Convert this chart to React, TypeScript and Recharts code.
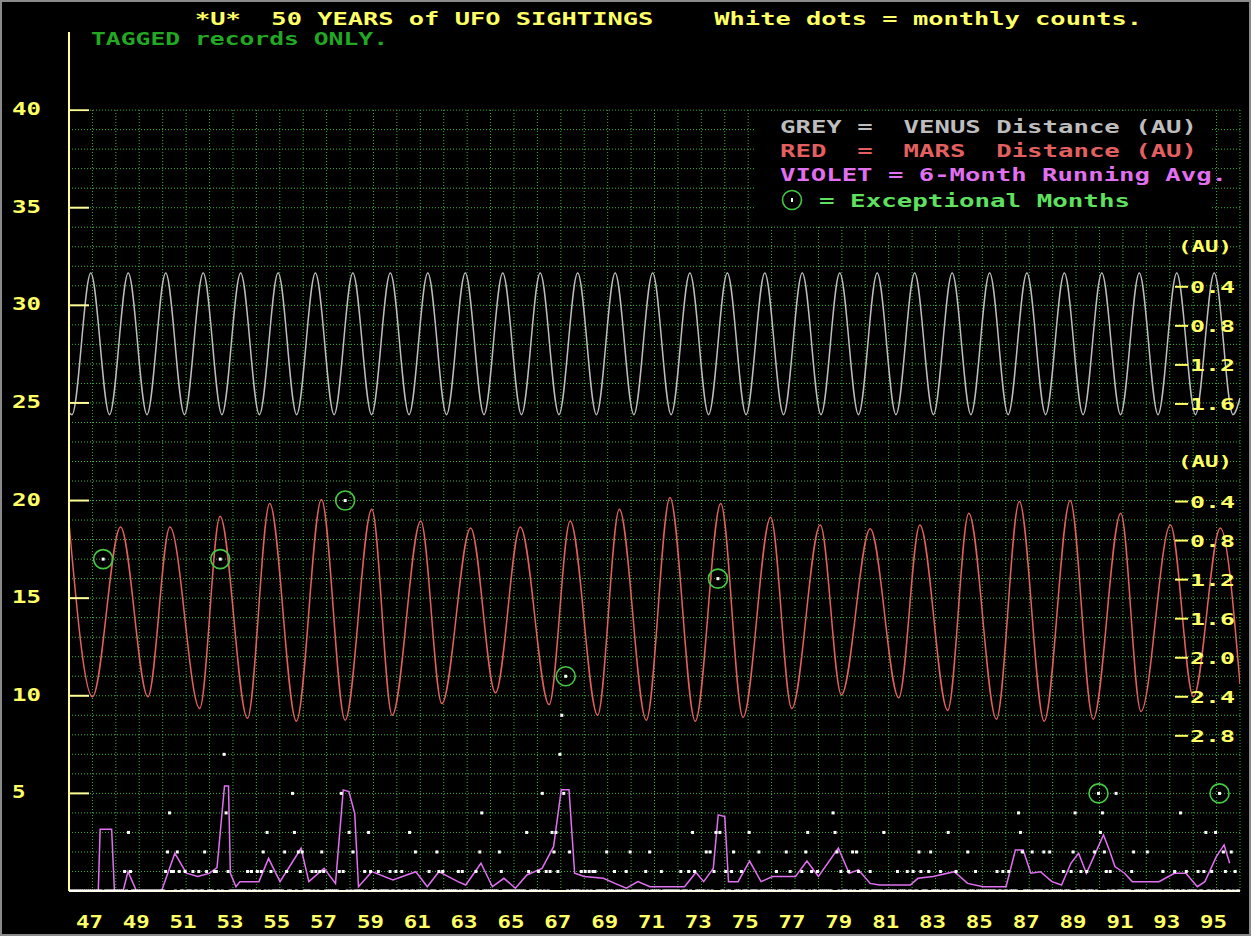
import { CartesianGrid, ComposedChart, Line, Scatter, XAxis, YAxis } from "recharts";

const FONT = "'DejaVu Sans Mono', 'Liberation Mono', monospace";
const YELLOW = "#ffff66";
const AXIS = "#ffff99";
const GRID = "#3ab43a";
const GREY = "#bdbdbd";
const RED = "#e46060";
const VIOLET = "#e070f0";
const RING = "#45c845";

// x axis: years 19xx
const yearTicks = [47, 49, 51, 53, 55, 57, 59, 61, 63, 65, 67, 69, 71, 73, 75, 77, 79, 81, 83, 85, 87, 89, 91, 93, 95];
const countTicks = [5, 10, 15, 20, 25, 30, 35, 40];
const venusTicks = [0, 0.4, 0.8, 1.2, 1.6];
const marsTicks = [0, 0.4, 0.8, 1.2, 1.6, 2.0, 2.4, 2.8];
const gridYears = Array.from({ length: 50 }, (_, i) => 47 + i);
const gridLevels = Array.from({ length: 40 }, (_, i) => i + 1);

// monthly counts, one string per year from 1946 (Jan..Dec), base-36 digits (b=11, g=16, h=17, k=20)
const monthlyCounts = [
  "000000000000", "00000h000000", "000010310000", "000000000000", "012411021001",
  "000100100210", "00110h074100", "000000010100", "101203010000", "002100530212",
  "000010101210", "000000151k03", "020000010310", "001000001001", "001000300200",
  "000010002101", "000000010100", "000010240000", "000021000000", "000000310000",
  "105010132317", "95b020000010", "101011000002", "000100000102", "000000010200",
  "000100000000", "010001031000", "00202013g300", "100120001000", "300002000000",
  "001000020100", "000102301001", "000000043201", "000102021000", "001000000300",
  "000010000100", "100210001200", "001000300010", "000020001000", "000000010010",
  "010000432000", "020000020020", "000001000124", "001001000205", "342101005000",
  "000012000000", "200000001000", "001004001000", "001001300103", "050210020100",
];

// [year, month index] of circled months
const exceptionalMonths = [[47, 5], [52, 5], [57, 9], [67, 2], [73, 8], [89, 11], [95, 1]];

// Venus distance (AU), turning points
const venusPoints: [number, number][] = [
  [46.0, 1.7], [46.13, 1.72], [46.93, 0.27], [47.73, 1.72], [48.53, 0.27], [49.33, 1.72],
  [50.13, 0.27], [50.93, 1.72], [51.73, 0.27], [52.53, 1.72], [53.33, 0.27], [54.13, 1.72],
  [54.93, 0.27], [55.72, 1.72], [56.52, 0.27], [57.32, 1.72], [58.12, 0.27], [58.92, 1.72],
  [59.72, 0.27], [60.52, 1.72], [61.32, 0.27], [62.12, 1.72], [62.92, 0.27], [63.72, 1.72],
  [64.52, 0.27], [65.32, 1.72], [66.12, 0.27], [66.92, 1.72], [67.72, 0.27], [68.52, 1.72],
  [69.32, 0.27], [70.12, 1.72], [70.92, 0.27], [71.71, 1.72], [72.51, 0.27], [73.31, 1.72],
  [74.11, 0.27], [74.91, 1.72], [75.71, 0.27], [76.51, 1.72], [77.31, 0.27], [78.11, 1.72],
  [78.91, 0.27], [79.71, 1.72], [80.51, 0.27], [81.31, 1.72], [82.11, 0.27], [82.91, 1.72],
  [83.71, 0.27], [84.51, 1.72], [85.31, 0.27], [86.1, 1.72], [86.9, 0.27], [87.7, 1.72],
  [88.5, 0.27], [89.3, 1.72], [90.1, 0.27], [90.9, 1.72], [91.7, 0.27], [92.5, 1.72],
  [93.3, 0.27], [94.1, 1.72], [94.9, 0.27], [95.7, 1.72], [96.0, 1.55],
];

// Mars distance (AU), turning points
const marsPoints: [number, number][] = [
  [46.0, 0.63], [47.0, 2.41], [48.2, 0.67], [49.37, 2.41], [50.31, 0.67], [51.58, 2.53],
  [52.45, 0.56], [53.62, 2.63], [54.57, 0.43], [55.71, 2.66], [56.78, 0.39], [57.79, 2.65],
  [58.93, 0.49], [59.8, 2.6], [61.02, 0.61], [61.92, 2.48], [63.15, 0.68], [64.21, 2.37],
  [65.27, 0.67], [66.5, 2.49], [67.4, 0.61], [68.57, 2.6], [69.5, 0.49], [70.65, 2.65],
  [71.66, 0.37], [72.74, 2.66], [73.83, 0.43], [74.78, 2.62], [75.96, 0.57], [76.86, 2.53],
  [78.08, 0.65], [78.98, 2.39], [80.21, 0.69], [81.43, 2.42], [82.33, 0.65], [83.52, 2.55],
  [84.42, 0.53], [85.6, 2.64], [86.58, 0.41], [87.64, 2.66], [88.75, 0.4], [89.73, 2.64],
  [90.91, 0.53], [91.77, 2.56], [93.03, 0.65], [94.01, 2.41], [95.16, 0.68], [96.0, 2.28],
];

// 6-month running average of the counts (violet line)
const runningAvg: [number, number][] = [
  [46.0, 0], [47.25, 0], [47.33, 3.16], [47.82, 3.16], [47.94, 0], [48.31, 0], [48.52, 0.99],
  [48.88, 0], [49.95, 0], [50.52, 1.93], [51.01, 0.91], [51.5, 0.74], [51.99, 0.9], [52.32, 1.2],
  [52.64, 5.38], [52.81, 5.38], [52.89, 0.91], [53.13, 0.22], [53.3, 0.48], [54.11, 0.48],
  [54.52, 1.67], [55.01, 0.48], [55.91, 2.19], [56.24, 0.48], [56.89, 1.16], [57.38, 0.39],
  [57.71, 5.18], [57.95, 5.09], [58.2, 3.98], [58.36, 0.22], [58.93, 0.99], [59.83, 0.56],
  [60.81, 0.99], [61.3, 0.22], [61.79, 0.99], [62.61, 0.48], [62.94, 0.31], [63.59, 1.42],
  [64.08, 0.22], [64.57, 0.65], [65.06, 0.14], [65.55, 0.82], [66.2, 1.16], [66.69, 2.27],
  [67.02, 5.18], [67.35, 5.18], [67.59, 0.91], [68.0, 0.74], [68.82, 0.65], [69.31, 0.39],
  [69.8, 0.14], [70.29, 0.48], [70.81, 0.22], [72.28, 0.22], [72.77, 0.95], [73.1, 0.48],
  [73.51, 1.16], [73.72, 3.9], [74.0, 3.81], [74.16, 0.48], [74.57, 0.48], [75.06, 1.53],
  [75.55, 0.48], [76.04, 0.74], [77.02, 0.74], [77.51, 1.53], [78.0, 0.74], [78.85, 2.2],
  [79.31, 0.91], [79.71, 1.08], [80.21, 0.39], [80.61, 0.31], [81.92, 0.31], [82.25, 0.65],
  [82.9, 0.74], [83.8, 0.99], [84.37, 0.39], [85.03, 0.22], [86.01, 0.22], [86.41, 2.1],
  [86.74, 2.1], [87.07, 0.91], [87.48, 0.99], [87.97, 0.48], [88.38, 0.31], [88.78, 1.42],
  [89.11, 1.93], [89.44, 0.91], [89.76, 1.76], [90.17, 2.87], [90.42, 2.1], [90.66, 1.25],
  [91.07, 0.91], [91.4, 0.48], [91.89, 0.48], [92.54, 0.48], [93.2, 0.91], [93.69, 0.91],
  [94.18, 0.22], [94.5, 0.48], [94.99, 1.76], [95.32, 2.36], [95.56, 1.42],
];

const countData = monthlyCounts.flatMap((row, yi) =>
  row.split("").map((c, m) => ({ t: 46 + yi + (m + 0.5) / 12, n: parseInt(c, 36) }))
);
const exceptionalData = exceptionalMonths.map(([y, m]) => ({
  t: y + (m + 0.5) / 12,
  n: parseInt(monthlyCounts[y - 46][m], 36),
}));
const venusData = venusPoints.map(([t, d]) => ({ t, d }));
const marsData = marsPoints.map(([t, d]) => ({ t, d }));
const avgData = runningAvg.map(([t, v]) => ({ t, v }));

const txt = { fontFamily: FONT, fontWeight: "bold" as const };

const countTick = (props: any) => {
  const { x, y, payload } = props;
  const label = String(payload.value);
  return (
    <g>
      <line x1={x} x2={x + 20} y1={y} y2={y} stroke={AXIS} strokeWidth={2} />
      <text x={12} y={y + 5} fill={YELLOW} fontSize={17} {...txt}
        textLength={label.length * 15.5 - 2} lengthAdjust="spacingAndGlyphs">{label}</text>
    </g>
  );
};

const yearTick = (props: any) => {
  const { x, y, payload } = props;
  return (
    <text x={x - 3} y={y + 37} fill={YELLOW} fontSize={17} textAnchor="middle" {...txt}
      textLength={27} lengthAdjust="spacingAndGlyphs">{payload.value}</text>
  );
};

// AU labels sit inside the plot, just left of its right edge (x = 1240)
const PLOT_RIGHT = 1240;
const auTick = (props: any) => {
  const { y, payload } = props;
  const x = PLOT_RIGHT;
  if (payload.value === 0) {
    return (
      <text x={x - 62} y={y + 5} fill={YELLOW} fontSize={16} {...txt}
        textLength={54} lengthAdjust="spacingAndGlyphs">(AU)</text>
    );
  }
  return (
    <g>
      <line x1={x - 65} x2={x - 52} y1={y + 1} y2={y + 1} stroke={YELLOW} strokeWidth={2} />
      <text x={x - 50} y={y + 7} fill={YELLOW} fontSize={16} {...txt}
        textLength={45} lengthAdjust="spacingAndGlyphs">{Number(payload.value).toFixed(1)}</text>
    </g>
  );
};

const countDot = (props: any) => (
  <rect x={props.cx - 1.5} y={props.cy - 1.5} width={3} height={3} fill="#ffffff" />
);
const ring = (props: any) => (
  <circle cx={props.cx} cy={props.cy} r={9.5} fill="none" stroke={RING} strokeWidth={1.6} />
);

export default function App() {
  return (
    <div style={{ position: "absolute", left: 0, top: 0, width: 1251, height: 936, background: "#000" }}>
      <ComposedChart width={1251} height={936} margin={{ top: 32, right: 1, bottom: 0, left: 0 }}>
        <CartesianGrid yAxisId="left" horizontalValues={gridLevels} verticalValues={gridYears}
          stroke={GRID} strokeDasharray="1 2" />
        <XAxis dataKey="t" type="number" domain={[46, 96]} ticks={yearTicks} interval={0} allowDataOverflow
          height={45} tickSize={0} tickMargin={0} tickLine={false} axisLine={{ stroke: "#fffde0", strokeWidth: 2 }}
          tick={yearTick} />
        <YAxis yAxisId="left" type="number" domain={[0, 44]} ticks={countTicks} interval={0} allowDataOverflow
          width={69} tickSize={0} tickMargin={0} tickLine={false} axisLine={{ stroke: AXIS, strokeWidth: 2 }}
          tick={countTick} />
        <YAxis yAxisId="venus" orientation="right" type="number" reversed domain={[-2.2, 6.6]} allowDataOverflow
          ticks={venusTicks} interval={0} width={5} tickSize={0} tickMargin={0} tickLine={false} axisLine={false}
          tick={auTick} />
        <YAxis yAxisId="mars" orientation="right" type="number" reversed domain={[-4.4, 4.4]} allowDataOverflow
          ticks={marsTicks} interval={0} width={5} tickSize={0} tickMargin={0} tickLine={false} axisLine={false}
          tick={auTick} />
        <Line data={venusData} dataKey="d" yAxisId="venus" type="monotone" stroke={GREY} strokeWidth={1.5}
          dot={false} isAnimationActive={false} />
        <Line data={marsData} dataKey="d" yAxisId="mars" type="monotone" stroke={RED} strokeWidth={1.5}
          dot={false} isAnimationActive={false} />
        <Scatter data={countData} dataKey="n" yAxisId="left" shape={countDot} isAnimationActive={false} />
        <Line data={avgData} dataKey="v" yAxisId="left" type="linear" stroke={VIOLET} strokeWidth={1.5}
          dot={false} isAnimationActive={false} />
        <Scatter data={exceptionalData} dataKey="n" yAxisId="left" shape={ring} isAnimationActive={false} />
      </ComposedChart>
      <svg width={1251} height={936} style={{ position: "absolute", left: 0, top: 0, pointerEvents: "none" }}>
        <rect x={70.5} y={0} width={1181} height={109.2} fill="#000" />
        <text x={195} y={25} fill={YELLOW} fontSize={17} {...txt} textLength={947} lengthAdjust="spacingAndGlyphs"
          xmlSpace="preserve">*U*  50 YEARS of UFO SIGHTINGS    White dots = monthly counts.</text>
        <text x={91} y={45} fill="#22a822" fontSize={17} {...txt} textLength={297} lengthAdjust="spacingAndGlyphs">
          TAGGED records ONLY.
        </text>
        <rect x={755} y={112} width={457} height={114} fill="#000" />
        <text x={780} y={133} fill={GREY} fontSize={18} {...txt} textLength={417} lengthAdjust="spacingAndGlyphs"
          xmlSpace="preserve">GREY =  VENUS Distance (AU)</text>
        <text x={780} y={157} fill={RED} fontSize={18} {...txt} textLength={417} lengthAdjust="spacingAndGlyphs"
          xmlSpace="preserve">RED  =  MARS  Distance (AU)</text>
        <text x={780} y={181} fill={VIOLET} fontSize={18} {...txt} textLength={447} lengthAdjust="spacingAndGlyphs">
          VIOLET = 6-Month Running Avg.
        </text>
        <circle cx={792} cy={200} r={9.5} fill="none" stroke={RING} strokeWidth={1.6} />
        <rect x={791} y={198} width={2} height={4} fill="#fff" />
        <text x={819} y={207} fill="#5fe05f" fontSize={18} {...txt} textLength={311} lengthAdjust="spacingAndGlyphs">
          = Exceptional Months
        </text>
        <rect x={1} y={1} width={1249} height={934} fill="none" stroke="#8a8a8a" strokeWidth={2} />
      </svg>
    </div>
  );
}
